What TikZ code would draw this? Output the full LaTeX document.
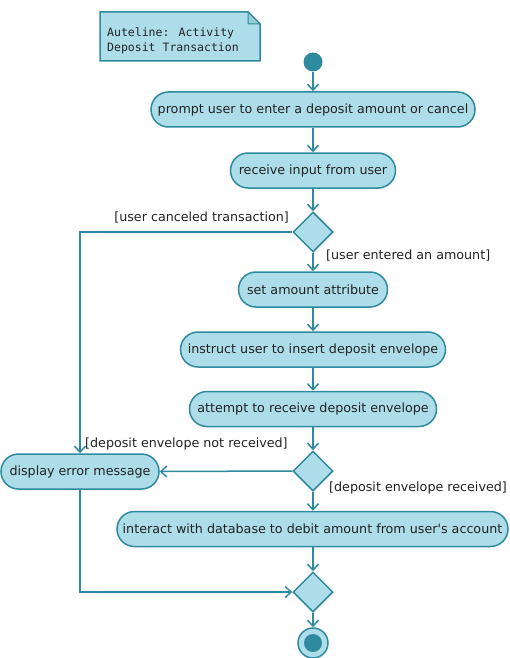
\documentclass[tikz,border=0pt]{standalone}
\usepackage{fontspec}
\setmainfont{DejaVu Sans}[Ligatures=TeXReset]
\newfontfamily\notefont{DejaVu Sans Mono}
\usetikzlibrary{arrows.meta,shapes.geometric}
\definecolor{fillc}{HTML}{ADDDE9}
\definecolor{linec}{HTML}{2E8A9E}
\definecolor{txt}{HTML}{222222}
\begin{document}
\begin{tikzpicture}[x=1pt,y=-1pt,
 act/.style={rectangle, rounded corners=17.5pt, draw=linec, fill=fillc, line width=1.5pt,
   minimum height=35pt, inner sep=0pt, font=\fontsize{12.7}{15}\selectfont, text=txt},
 dec/.style={diamond, draw=linec, fill=fillc, line width=1.5pt, minimum width=40pt,
   minimum height=40pt, inner sep=0pt},
 flow/.style={draw=linec, line width=1.5pt, -{Straight Barb[length=6pt,width=11pt]}},
 lbl/.style={font=\fontsize{12.7}{15}\selectfont, text=txt, inner sep=0pt}]
\useasboundingbox (0,0) rectangle (509,658);
% note
\draw[draw=linec, fill=fillc, line width=1.5pt] (100,12) -- (248,12) -- (260,24) -- (260,61) -- (100,61) -- cycle;
\draw[draw=linec, fill=fillc!80!linec, line width=1pt] (248,12) -- (248,24) -- (260,24) -- cycle;
\node[anchor=west, align=left, inner sep=0pt, text=txt, font=\notefont\fontsize{11.5}{15}\selectfont] (note) at (107,40.5) {Auteline: Activity\\Deposit Transaction};
% nodes
\node[circle, fill=linec, minimum size=19pt, inner sep=0pt] (start) at (313,62) {};
\node[act, minimum width=324pt] (a1) at (313,109.5) {prompt user to enter a deposit amount or cancel};
\node[act, minimum width=165pt] (a2) at (313,170.5) {receive input from user};
\node[dec] (d1) at (313,232) {};
\node[act, minimum width=149pt] (a3) at (313,289.5) {set amount attribute};
\node[act, minimum width=265pt] (a4) at (313,349.5) {instruct user to insert deposit envelope};
\node[act, minimum width=247pt] (a5) at (313,409) {attempt to receive deposit envelope};
\node[dec] (d2) at (313,471) {};
\node[act, minimum width=158pt] (err) at (80,471.5) {display error message};
\node[act, minimum width=391pt] (db) at (312.5,529) {interact with database to debit amount from user's account};
\node[dec] (d3) at (313,592) {};
\node[circle, draw=linec, fill=fillc, line width=1.5pt, minimum size=30pt, inner sep=0pt] (end) at (313,643) {};
\node[circle, fill=linec, minimum size=18pt, inner sep=0pt] (endin) at (end.center) {};
% labels
\node[lbl, anchor=east] (l1) at (289,218) {[user canceled transaction]};
\node[lbl, anchor=west] (l2) at (326,256) {[user entered an amount]};
\node[lbl, anchor=west] (l3) at (85,444) {[deposit envelope not received]};
\node[lbl, anchor=west] (l4) at (329,488) {[deposit envelope received]};
% edges
\draw[flow] (start) -- (a1);
\draw[flow] (a1) -- (a2);
\draw[flow] (a2) -- (d1);
\draw[flow] (d1) -- (a3);
\draw[flow] (a3) -- (a4);
\draw[flow] (a4) -- (a5);
\draw[flow] (a5) -- (d2);
\draw[flow] (d2.south) -- (d2.south |- db.north);
\draw[flow] (db.south -| d3.north) -- (d3.north);
\draw[flow] (d3) -- (end);
\draw[flow] (d1.west) -| (err.north);
\draw[flow] (d2.west) -- (err.east);
\draw[flow] (err.south) |- (d3.west);
\end{tikzpicture}
\end{document}
